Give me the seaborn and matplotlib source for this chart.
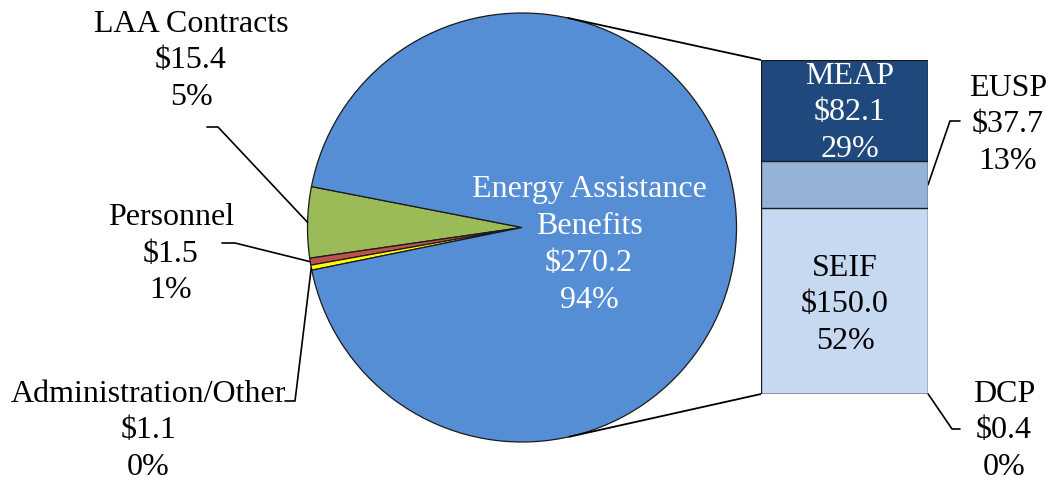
import numpy as np
import matplotlib
matplotlib.use("Agg")
import matplotlib.pyplot as plt
import seaborn as sns

# ---------------- data ----------------
pie_names = ["LAA Contracts", "Personnel", "Administration/Other", "Energy Assistance\nBenefits"]
pie_values = [15.4, 1.5, 1.1, 270.2]
pie_pcts = ["5%", "1%", "0%", "94%"]
pie_colors = ["#9BBB59", "#C0504D", "#FFFF00", "#558ED5"]

bar_names = ["DCP", "SEIF", "EUSP", "MEAP"]          # bottom -> top
bar_values = [0.4, 150.0, 37.7, 82.1]
bar_pcts = ["0%", "52%", "13%", "29%"]
bar_colors = ["#C6D9F1", "#C6D9F1", "#95B3D7", "#1F497D"]

# ---------------- style ----------------
sns.set_theme(style="white")
plt.rcParams["font.family"] = ["Liberation Serif", "DejaVu Serif"]
FS = 23
LS = 1.36

W, H = 1051, 481
fig = plt.figure(figsize=(W / 100, H / 100), dpi=100)
ax = fig.add_axes([0, 0, 1, 1])

def Y(py):
    return H - py

# pie geometry (layout)
cx, cy, R = 522, Y(228.5), 214.5
start = 169.0
wedges, _ = ax.pie(pie_values, colors=pie_colors, startangle=start, counterclock=True,
                   center=(cx, cy), radius=R,
                   wedgeprops=dict(edgecolor="#1a1a1a", linewidth=0.9))
ax.set_xlim(0, W)
ax.set_ylim(0, H)
ax.set_aspect("auto")
ax.axis("off")

# bar axes
bx0, bx1, by0, by1 = 761, 928, 61, 395
bax = fig.add_axes([bx0 / W, (H - by1) / H, (bx1 - bx0) / W, (by1 - by0) / H])
cum = np.cumsum(bar_values)
for i in range(len(bar_values) - 1, -1, -1):
    sns.barplot(x=[0], y=[cum[i]], color=bar_colors[i], saturation=1, width=1,
                edgecolor="#1a1a1a", linewidth=1.0, ax=bax)
bax.set_xlim(-0.5, 0.5)
bax.set_ylim(0, cum[-1])
bax.axis("off")

# tangent connector lines
to_main = ax.transData.inverted()
corner_top = to_main.transform(bax.transAxes.transform((0, 1)))
corner_bot = to_main.transform(bax.transAxes.transform((0, 0)))

def tangent_point(P, upper):
    dx, dy = P[0] - cx, P[1] - cy
    d = np.hypot(dx, dy)
    phi = np.arctan2(dy, dx)
    a = np.arccos(R / d)
    ang = phi + a if upper else phi - a
    return cx + R * np.cos(ang), cy + R * np.sin(ang)

for P, up in [(corner_top, True), (corner_bot, False)]:
    T = tangent_point(P, up)
    ax.plot([T[0], P[0]], [T[1], P[1]], color="black", lw=1.3, solid_capstyle="butt")

# ---------------- labels ----------------
def lbl(name, val, pct):
    return f"{name}\n${val:.1f}\n{pct}"

def mid_point(w):
    ang = np.deg2rad((w.theta1 + w.theta2) / 2)
    return cx + R * np.cos(ang), cy + R * np.sin(ang)

# pie outside labels: (text center, elbow start, elbow end)
pie_text_pos = [(191, 61), (171, 254), (148, 431)]
pie_elbows = [((207, 128), (218, 128)), ((222, 244), (235, 244)), ((285, 402), (295, 402))]
for i in range(3):
    tx, ty = pie_text_pos[i]
    ax.text(tx, Y(ty), lbl(pie_names[i], pie_values[i], pie_pcts[i]), ha="center", va="center",
            fontsize=FS, color="black", linespacing=LS, multialignment="center")
    (e0x, e0y), (e1x, e1y) = pie_elbows[i]
    mx, my = mid_point(wedges[i])
    ax.plot([e0x, e1x, mx], [Y(e0y), Y(e1y), my], color="black", lw=1.2)

ax.text(589, Y(245), lbl(pie_names[3], pie_values[3], pie_pcts[3]), ha="center", va="center",
        fontsize=FS, color="white", linespacing=LS, multialignment="center")

# bar labels (drawn on the bar axes so they sit above the bars)
bt = dict(ha="center", va="center", fontsize=FS, linespacing=LS, transform=ax.transData,
          clip_on=False, zorder=10)
bax.text(850, Y(113), lbl(bar_names[3], bar_values[3], bar_pcts[3]), color="white", **bt)
bax.text(845, Y(305), lbl(bar_names[1], bar_values[1], bar_pcts[1]), color="black", **bt)
bax.text(1008, Y(125), lbl(bar_names[2], bar_values[2], bar_pcts[2]), color="black", **bt)
bax.text(1004, Y(431), lbl(bar_names[0], bar_values[0], bar_pcts[0]), color="black", **bt)

# bar leader lines
eusp_mid = to_main.transform(bax.transData.transform((0.5, cum[1] + bar_values[2] / 2)))
ax.plot([eusp_mid[0], 950, 960], [eusp_mid[1], Y(122), Y(122)], color="black", lw=1.2)
dcp_pt = to_main.transform(bax.transData.transform((0.5, bar_values[0] / 2)))
ax.plot([dcp_pt[0], 952, 960], [dcp_pt[1], Y(430), Y(430)], color="black", lw=1.2)

fig.savefig("out.png", dpi=100, facecolor="white")
